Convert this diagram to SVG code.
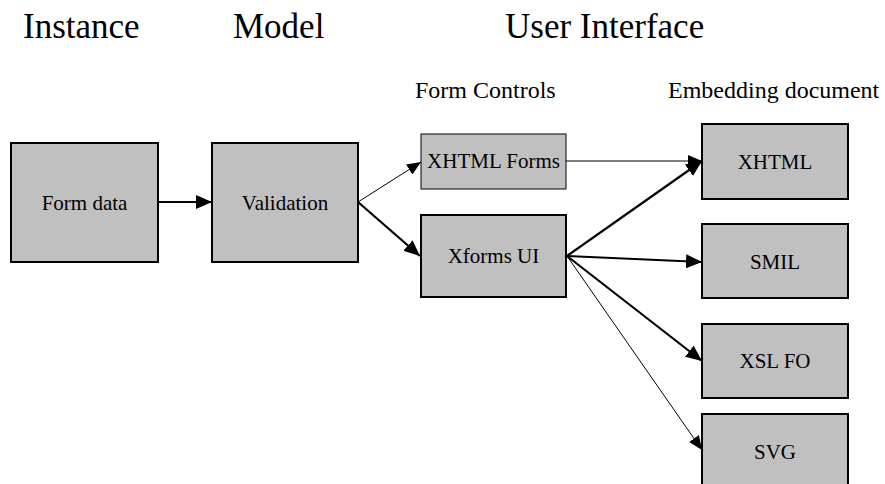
<svg xmlns="http://www.w3.org/2000/svg" width="885" height="484" viewBox="0 0 885 484">
  <style>
    .box { fill: #c0c0c0; stroke: #000; stroke-width: 2; }
    .thinbox { fill: #c0c0c0; stroke: #000; stroke-width: 1; }
    text { font-family: 'Liberation Serif', Tinos, 'Times New Roman', Times, serif; fill: #000; }
    .lbl { font-size: 21px; text-anchor: middle; }
    .hdr { font-size: 35px; }
    .sub { font-size: 24px; }
    .thick { stroke: #000; stroke-width: 2.2; fill: none; marker-end: url(#ah); }
    .thin { stroke: #000; stroke-width: 1; fill: none; marker-end: url(#ahs); }
  </style>
  <defs>
    <marker id="ah" markerUnits="userSpaceOnUse" markerWidth="16" markerHeight="14" refX="16" refY="7" orient="auto">
      <path d="M0,0 L16,7 L0,14 z" fill="#000"/>
    </marker>
    <marker id="ahs" markerUnits="userSpaceOnUse" markerWidth="14" markerHeight="12" refX="14" refY="6" orient="auto">
      <path d="M0,0 L14,6 L0,12 z" fill="#000"/>
    </marker>
  </defs>
  <rect width="885" height="484" fill="#fff"/>

  <g id="headers" font-family="Liberation Serif, serif">
    <text class="hdr" x="23" y="38">Instance</text>
    <text class="hdr" x="233" y="38">Model</text>
    <text class="hdr" x="505" y="38">User Interface</text>
    <text class="sub" x="415" y="98">Form Controls</text>
    <text class="sub" x="668" y="98">Embedding document</text>
  </g>

  <g id="connectors">
    <line class="thick" x1="158" y1="202" x2="212" y2="202"/>
    <line class="thin" x1="358" y1="202" x2="421" y2="162"/>
    <line class="thick" x1="358" y1="202" x2="420" y2="256"/>
    <line class="thin" x1="566" y1="161" x2="702" y2="161"/>
    <line class="thick" x1="567" y1="256" x2="702" y2="161"/>
    <line class="thick" x1="567" y1="256" x2="702" y2="262"/>
    <line class="thick" x1="567" y1="256" x2="702" y2="361"/>
    <line class="thin" x1="567" y1="256" x2="702" y2="450"/>
  </g>

  <g id="form-data">
    <rect class="box" x="11" y="143" width="147" height="119"/>
    <text class="lbl" x="84.5" y="210">Form data</text>
  </g>
  <g id="validation">
    <rect class="box" x="212" y="143" width="146" height="119"/>
    <text class="lbl" x="285" y="210">Validation</text>
  </g>
  <g id="xhtml-forms">
    <rect class="thinbox" x="421" y="134" width="145" height="55"/>
    <text class="lbl" x="493.5" y="168">XHTML Forms</text>
  </g>
  <g id="xforms-ui">
    <rect class="box" x="421" y="215" width="145" height="82"/>
    <text class="lbl" x="493.5" y="263">Xforms UI</text>
  </g>
  <g id="xhtml">
    <rect class="box" x="702" y="124" width="146" height="75"/>
    <text class="lbl" x="775" y="169">XHTML</text>
  </g>
  <g id="smil">
    <rect class="box" x="702" y="224" width="146" height="74"/>
    <text class="lbl" x="775" y="269">SMIL</text>
  </g>
  <g id="xsl-fo">
    <rect class="box" x="702" y="324" width="146" height="74"/>
    <text class="lbl" x="775" y="368">XSL FO</text>
  </g>
  <g id="svg">
    <rect class="box" x="702" y="414" width="146" height="74"/>
    <text class="lbl" x="775" y="459">SVG</text>
  </g>
</svg>
